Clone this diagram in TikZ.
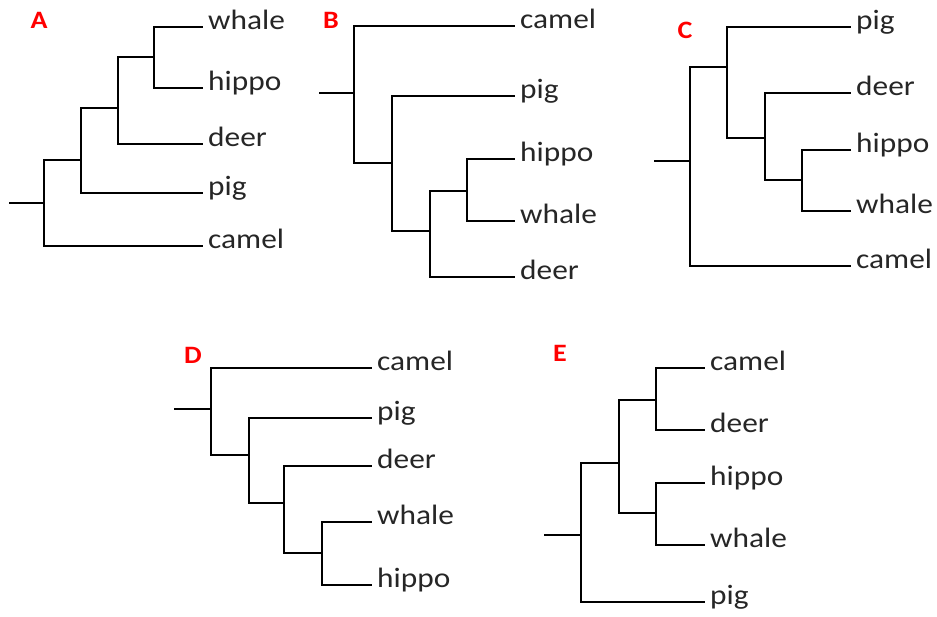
\documentclass[tikz,border=0pt]{standalone}
\usepackage{fontspec}
\setmainfont{Carlito}[FakeStretch=1.12]
\begin{document}
\begin{tikzpicture}[x=1pt,y=-1pt,
  branch/.style={line width=2.5pt, line join=miter},
  leaf/.style={anchor=mid west, inner xsep=5pt, inner ysep=0pt, text=black!85, font=\fontsize{28}{32}\selectfont},
  tag/.style={inner sep=0pt, text=red, font=\fontsize{25}{28}\selectfont\bfseries}]
\useasboundingbox (0,0) rectangle (937,616);

% ---------- Tree A ----------
\node[tag] (tA) at (39,20) {A};
\coordinate (rA) at (9,203);
\coordinate (aA1) at (44,203);
\coordinate (aA2) at (81,160);
\coordinate (aA3) at (118,108);
\coordinate (aA4) at (154,57);
\node[leaf] (whaleA) at (203,27) {whale};
\node[leaf] (hippoA) at (203,88) {hippo};
\node[leaf] (deerA) at (203,144) {deer};
\node[leaf] (pigA) at (203,193) {pig};
\node[leaf] (camelA) at (203,246) {camel};
\draw[branch] (rA) -- (aA1);
\draw[branch] (aA1) |- (aA2);
\draw[branch] (aA1) |- (camelA.mid west);
\draw[branch] (aA2) |- (aA3);
\draw[branch] (aA2) |- (pigA.mid west);
\draw[branch] (aA3) |- (aA4);
\draw[branch] (aA3) |- (deerA.mid west);
\draw[branch] (aA4) |- (whaleA.mid west);
\draw[branch] (aA4) |- (hippoA.mid west);

% ---------- Tree B ----------
\node[tag] (tB) at (331,20) {B};
\coordinate (rB) at (319,93);
\coordinate (aB1) at (354,93);
\coordinate (aB2) at (392,163);
\coordinate (aB3) at (430,231);
\coordinate (aB4) at (467,191);
\node[leaf] (camelB) at (515,26) {camel};
\node[leaf] (pigB) at (515,96) {pig};
\node[leaf] (hippoB) at (515,159) {hippo};
\node[leaf] (whaleB) at (515,221) {whale};
\node[leaf] (deerB) at (515,277) {deer};
\draw[branch] (rB) -- (aB1);
\draw[branch] (aB1) |- (camelB.mid west);
\draw[branch] (aB1) |- (aB2);
\draw[branch] (aB2) |- (pigB.mid west);
\draw[branch] (aB2) |- (aB3);
\draw[branch] (aB3) |- (aB4);
\draw[branch] (aB3) |- (deerB.mid west);
\draw[branch] (aB4) |- (hippoB.mid west);
\draw[branch] (aB4) |- (whaleB.mid west);

% ---------- Tree C ----------
\node[tag] (tC) at (685,30) {C};
\coordinate (rC) at (654,161);
\coordinate (aC1) at (690,161);
\coordinate (aC2) at (727,67);
\coordinate (aC3) at (765,138);
\coordinate (aC4) at (802,180);
\node[leaf] (pigC) at (851,27) {pig};
\node[leaf] (deerC) at (851,93) {deer};
\node[leaf] (hippoC) at (851,150) {hippo};
\node[leaf] (whaleC) at (851,211) {whale};
\node[leaf] (camelC) at (851,266) {camel};
\draw[branch] (rC) -- (aC1);
\draw[branch] (aC1) |- (aC2);
\draw[branch] (aC1) |- (camelC.mid west);
\draw[branch] (aC2) |- (pigC.mid west);
\draw[branch] (aC2) |- (aC3);
\draw[branch] (aC3) |- (deerC.mid west);
\draw[branch] (aC3) |- (aC4);
\draw[branch] (aC4) |- (hippoC.mid west);
\draw[branch] (aC4) |- (whaleC.mid west);

% ---------- Tree D ----------
\node[tag] (tD) at (193,355) {D};
\coordinate (rD) at (174,409);
\coordinate (aD1) at (211,409);
\coordinate (aD2) at (249,455);
\coordinate (aD3) at (284,503);
\coordinate (aD4) at (322,553);
\node[leaf] (camelD) at (372,368) {camel};
\node[leaf] (pigD) at (372,418) {pig};
\node[leaf] (deerD) at (372,466) {deer};
\node[leaf] (whaleD) at (372,522) {whale};
\node[leaf] (hippoD) at (372,585) {hippo};
\draw[branch] (rD) -- (aD1);
\draw[branch] (aD1) |- (camelD.mid west);
\draw[branch] (aD1) |- (aD2);
\draw[branch] (aD2) |- (pigD.mid west);
\draw[branch] (aD2) |- (aD3);
\draw[branch] (aD3) |- (deerD.mid west);
\draw[branch] (aD3) |- (aD4);
\draw[branch] (aD4) |- (whaleD.mid west);
\draw[branch] (aD4) |- (hippoD.mid west);

% ---------- Tree E ----------
\node[tag] (tE) at (560,353) {E};
\coordinate (rE) at (544,535);
\coordinate (aE1) at (581,535);
\coordinate (aE2) at (619,463);
\coordinate (aE3) at (656,400);
\coordinate (aE4) at (656,513);
\node[leaf] (camelE) at (705,368) {camel};
\node[leaf] (deerE) at (705,430) {deer};
\node[leaf] (hippoE) at (705,483) {hippo};
\node[leaf] (whaleE) at (705,545) {whale};
\node[leaf] (pigE) at (705,602) {pig};
\draw[branch] (rE) -- (aE1);
\draw[branch] (aE1) |- (aE2);
\draw[branch] (aE1) |- (pigE.mid west);
\draw[branch] (aE2) |- (aE3);
\draw[branch] (aE2) |- (aE4);
\draw[branch] (aE3) |- (camelE.mid west);
\draw[branch] (aE3) |- (deerE.mid west);
\draw[branch] (aE4) |- (hippoE.mid west);
\draw[branch] (aE4) |- (whaleE.mid west);
\end{tikzpicture}
\end{document}
